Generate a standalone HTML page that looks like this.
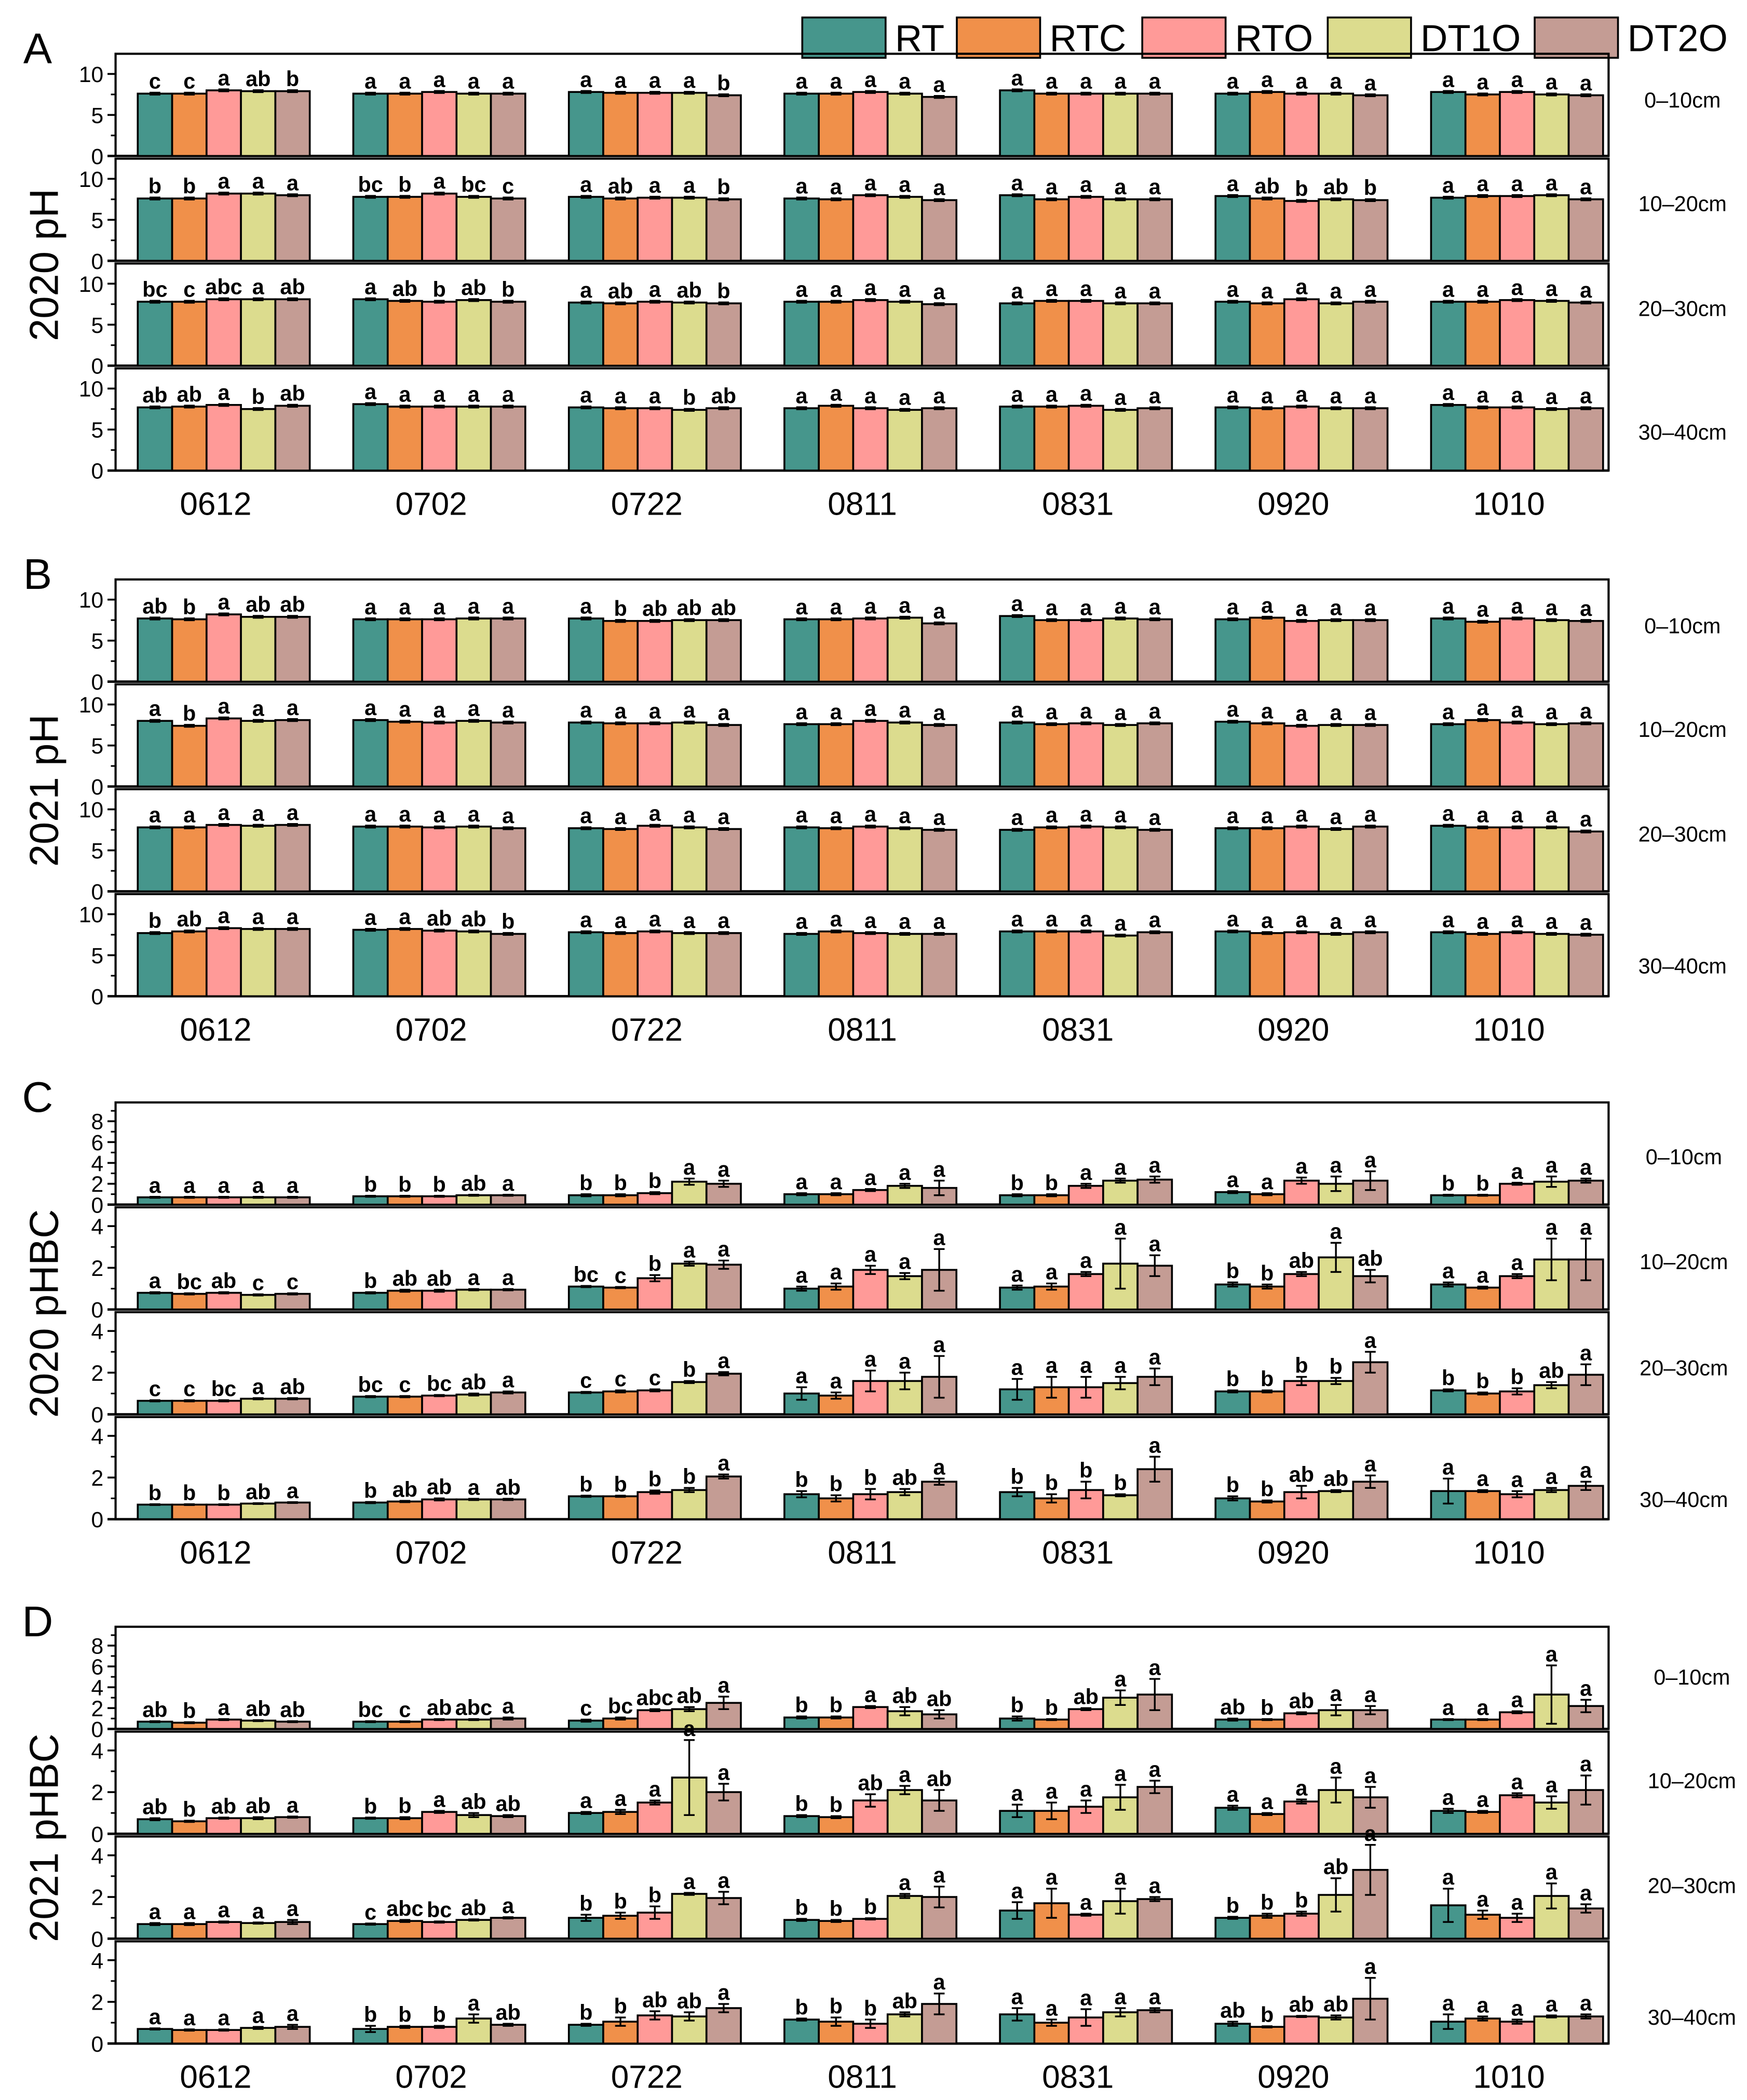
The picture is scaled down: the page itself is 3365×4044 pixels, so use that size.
<!DOCTYPE html>
<html><head><meta charset="utf-8">
<style>
html,body{margin:0;padding:0;background:#fff;}
svg{display:block;}
text{font-family:"Liberation Sans",Arial,sans-serif;}
</style></head>
<body>
<svg id="chart" xmlns="http://www.w3.org/2000/svg" width="3365" height="4044" viewBox="0 0 1300 1562" preserveAspectRatio="none">
<g id="legend"></g>
<g id="plots"></g>
</svg>
<script>
const categories = ["0612","0702","0722","0811","0831","0920","1010"];
const seriesNames = ["RT","RTC","RTO","DT1O","DT2O"];
const seriesColors = ["#46968C","#F0904A","#FF9A98","#DCDC8E","#C49C94"];
const depthLabels = ["0–10cm","10–20cm","20–30cm","30–40cm"];
const phTicks = [0,5,10];
const hbcTicksTop = [0,2,4,6,8];
const hbcTicks = [0,2,4];

// Panel A (2020 pH)
const A1_vals = [[7.6,7.6,8.0,7.9,7.9],[7.6,7.6,7.8,7.6,7.6],[7.8,7.7,7.7,7.7,7.4],[7.6,7.6,7.8,7.6,7.2],[8.0,7.6,7.6,7.6,7.6],[7.6,7.8,7.6,7.6,7.4],[7.8,7.5,7.8,7.5,7.4]];
const A1_let = ["c c a ab b","a a a a a","a a a a b","a a a a a","a a a a a","a a a a a","a a a a a"];
const A2_vals = [[7.6,7.6,8.2,8.2,8.0],[7.8,7.8,8.2,7.8,7.6],[7.8,7.6,7.7,7.7,7.5],[7.6,7.5,8.0,7.8,7.4],[8.0,7.5,7.8,7.5,7.5],[7.9,7.6,7.3,7.5,7.4],[7.7,7.9,7.9,8.0,7.5]];
const A2_let = ["b b a a a","bc b a bc c","a ab a a b","a a a a a","a a a a a","a ab b ab b","a a a a a"];
const A3_vals = [[7.8,7.8,8.1,8.1,8.1],[8.1,7.9,7.8,8.0,7.8],[7.7,7.6,7.8,7.7,7.6],[7.8,7.8,8.0,7.8,7.5],[7.6,7.9,7.9,7.6,7.6],[7.8,7.6,8.1,7.6,7.8],[7.8,7.8,8.0,7.9,7.7]];
const A3_let = ["bc c abc a ab","a ab b ab b","a ab a ab b","a a a a a","a a a a a","a a a a a","a a a a a"];
const A4_vals = [[7.7,7.8,8.0,7.5,7.9],[8.1,7.8,7.8,7.8,7.8],[7.7,7.6,7.6,7.4,7.6],[7.6,7.9,7.6,7.4,7.6],[7.8,7.8,7.9,7.4,7.6],[7.7,7.6,7.8,7.6,7.6],[8.0,7.7,7.7,7.5,7.6]];
const A4_let = ["ab ab a b ab","a a a a a","a a a b ab","a a a a a","a a a a a","a a a a a","a a a a a"];
// Panel B (2021 pH)
const B1_vals = [[7.7,7.6,8.2,7.9,7.9],[7.6,7.6,7.6,7.7,7.7],[7.7,7.4,7.4,7.5,7.5],[7.6,7.6,7.7,7.8,7.1],[8.0,7.5,7.5,7.7,7.6],[7.6,7.8,7.4,7.5,7.5],[7.7,7.3,7.7,7.5,7.4]];
const B1_let = ["ab b a ab ab","a a a a a","a b ab ab ab","a a a a a","a a a a a","a a a a a","a a a a a"];
const B2_vals = [[8.0,7.4,8.3,8.0,8.1],[8.1,7.9,7.8,8.0,7.8],[7.8,7.7,7.7,7.8,7.5],[7.6,7.6,8.0,7.8,7.5],[7.8,7.6,7.7,7.5,7.7],[7.9,7.7,7.4,7.5,7.5],[7.6,8.1,7.8,7.6,7.7]];
const B2_let = ["a b a a a","a a a a a","a a a a a","a a a a a","a a a a a","a a a a a","a a a a a"];
const B3_vals = [[7.8,7.8,8.1,8.0,8.1],[7.9,7.9,7.8,7.9,7.7],[7.7,7.6,8.0,7.8,7.6],[7.8,7.7,7.9,7.7,7.5],[7.5,7.8,7.9,7.8,7.5],[7.7,7.7,7.9,7.6,7.9],[8.0,7.8,7.8,7.8,7.3]];
const B3_let = ["a a a a a","a a a a a","a a a a a","a a a a a","a a a a a","a a a a a","a a a a a"];
const B4_vals = [[7.7,7.9,8.3,8.2,8.2],[8.1,8.2,8.0,7.9,7.6],[7.8,7.7,7.9,7.7,7.7],[7.6,7.9,7.7,7.6,7.6],[7.9,7.9,7.9,7.4,7.8],[7.9,7.7,7.8,7.6,7.8],[7.8,7.6,7.8,7.6,7.5]];
const B4_let = ["b ab a a a","a a ab ab b","a a a a a","a a a a a","a a a a a","a a a a a","a a a a a"];
// Panel C (2020 pHBC)
const C1_vals = [[0.7,0.7,0.7,0.7,0.7],[0.8,0.8,0.8,0.9,0.9],[0.9,0.9,1.1,2.2,2.0],[1.0,1.0,1.4,1.8,1.6],[0.9,0.9,1.8,2.3,2.4],[1.2,1.0,2.3,2.0,2.3],[0.9,0.9,2.0,2.2,2.3]];
const C1_err = [[.05,.05,.05,.05,.05],[.05,.05,.05,.05,.05],[.1,.1,.1,.3,.3],[.1,.1,.1,.2,.7],[.1,.1,.2,.2,.3],[.1,.1,.3,.7,.9],[.05,.05,.1,.5,.2]];
const C1_let = ["a a a a a","b b b ab a","b b b a a","a a a a a","b b a a a","a a a a a","b b a a a"];
const C2_vals = [[0.8,0.75,0.8,0.7,0.75],[0.8,0.9,0.9,0.95,0.95],[1.1,1.05,1.5,2.2,2.15],[1.0,1.1,1.9,1.6,1.9],[1.05,1.1,1.7,2.2,2.1],[1.2,1.1,1.7,2.5,1.6],[1.2,1.05,1.6,2.4,2.4]];
const C2_err = [[.03,.03,.03,.03,.03],[.03,.05,.05,.03,.03],[.03,.03,.15,.1,.2],[.1,.15,.2,.15,1.0],[.1,.15,.1,1.2,.5],[.1,.1,.1,.7,.3],[.1,.05,.1,1.0,1.0]];
const C2_let = ["a bc ab c c","b ab ab a a","bc c b a a","a a a a a","a a a a a","b b ab a ab","a a a a a"];
const C3_vals = [[0.65,0.65,0.65,0.75,0.75],[0.85,0.85,0.9,0.95,1.05],[1.05,1.1,1.15,1.55,1.95],[1.0,0.9,1.6,1.6,1.8],[1.2,1.3,1.3,1.5,1.8],[1.1,1.1,1.6,1.6,2.5],[1.15,1.0,1.1,1.4,1.9]];
const C3_err = [[.03,.03,.03,.03,.03],[.03,.03,.03,.05,.05],[.03,.05,.05,.05,.08],[.3,.15,.5,.4,1.0],[.5,.5,.5,.3,.4],[.05,.05,.2,.15,.5],[.05,.05,.15,.15,.5]];
const C3_let = ["c c bc a ab","bc c bc ab a","c c c b a","a a a a a","a a a a a","b b b b a","b b b ab a"];
const C4_vals = [[0.7,0.7,0.7,0.75,0.8],[0.8,0.85,0.95,0.95,0.95],[1.1,1.1,1.3,1.4,2.05],[1.2,1.0,1.2,1.3,1.8],[1.3,1.0,1.4,1.15,2.4],[1.0,0.85,1.3,1.35,1.8],[1.35,1.35,1.2,1.4,1.6]];
const C4_err = [[.02,.02,.02,.02,.02],[.03,.03,.05,.03,.03],[.03,.03,.08,.1,.1],[.15,.15,.25,.15,.15],[.2,.2,.4,.05,.6],[.1,.05,.3,.05,.3],[.6,.05,.15,.1,.2]];
const C4_let = ["b b b ab a","b ab ab a ab","b b b b a","b b b ab a","b b b b a","b b ab ab a","a a a a a"];
// Panel D (2021 pHBC)
const D1_vals = [[0.7,0.6,0.9,0.8,0.7],[0.7,0.7,0.9,0.9,1.0],[0.8,1.0,1.8,1.9,2.5],[1.1,1.1,2.1,1.7,1.4],[1.0,0.9,1.9,3.0,3.3],[0.9,0.9,1.5,1.8,1.8],[0.9,0.9,1.6,3.3,2.2]];
const D1_err = [[.05,.05,.05,.05,.05],[.05,.05,.05,.05,.1],[.1,.1,.1,.2,.6],[.1,.1,.1,.4,.4],[.2,.05,.1,.7,1.5],[.1,.05,.1,.5,.4],[.05,.05,.1,2.8,.6]];
const D1_let = ["ab b a ab ab","bc c ab abc a","c bc abc ab a","b b a ab ab","b b ab a a","ab b ab a a","a a a a a"];
const D2_vals = [[0.7,0.6,0.75,0.75,0.8],[0.75,0.75,1.05,0.9,0.85],[1.0,1.05,1.5,2.7,2.0],[0.85,0.8,1.6,2.1,1.6],[1.1,1.1,1.3,1.75,2.25],[1.25,0.95,1.55,2.1,1.75],[1.1,1.05,1.85,1.5,2.1]];
const D2_err = [[.05,.03,.03,.05,.03],[.03,.05,.05,.1,.05],[.05,.1,.1,1.8,.4],[.05,.05,.3,.2,.5],[.3,.4,.3,.6,.3],[.1,.05,.1,.6,.5],[.1,.05,.1,.3,.7]];
const D2_let = ["ab b ab ab a","b b a ab ab","a a a a a","b b ab a ab","a a a a a","a a a a a","a a a a a"];
const D3_vals = [[0.7,0.7,0.8,0.75,0.8],[0.7,0.85,0.8,0.9,1.0],[1.0,1.1,1.25,2.15,1.95],[0.9,0.85,0.95,2.05,2.0],[1.35,1.7,1.15,1.8,1.9],[1.0,1.1,1.2,2.1,3.3],[1.6,1.15,1.0,2.05,1.45]];
const D3_err = [[.05,.05,.03,.03,.1],[.03,.05,.03,.03,.03],[.15,.15,.3,.05,.3],[.05,.05,.03,.1,.5],[.4,.7,.05,.6,.1],[.05,.1,.1,.8,1.2],[.8,.2,.2,.6,.2]];
const D3_let = ["a a a a a","c abc bc ab a","b b b a a","b b b a a","a a a a a","b b b ab a","a a a a a"];
const D4_vals = [[0.7,0.65,0.65,0.75,0.8],[0.7,0.8,0.8,1.2,0.9],[0.9,1.05,1.35,1.3,1.7],[1.15,1.05,0.95,1.4,1.9],[1.4,1.0,1.25,1.5,1.6],[0.95,0.8,1.3,1.25,2.15],[1.05,1.2,1.05,1.3,1.3]];
const D4_err = [[.03,.03,.03,.05,.1],[.15,.05,.05,.2,.05],[.05,.2,.2,.2,.2],[.05,.2,.2,.1,.5],[.3,.15,.4,.2,.1],[.1,.03,.03,.1,1.0],[.35,.1,.1,.05,.1]];
const D4_let = ["a a a a a","b b b a ab","b b ab ab a","b b b ab a","a a a a a","ab b ab ab a","a a a a a"];

const NS = "http://www.w3.org/2000/svg";
function mk(tag, attrs, parent){
  const e = document.createElementNS(NS, tag);
  for (const k in attrs) e.setAttribute(k, attrs[k]);
  parent.appendChild(e);
  return e;
}
const X0 = 86, X1 = 1197, BW = 25.6, G0 = 166.5, GP = 160.4;
function xBar(g, i){ return G0 + GP*g - 2.5*BW + i*BW; }

const panels = [
  {letter:"A", title:"2020 pH", zeros:[116,194,272,350], type:"ph",
   rows:[[A1_vals,null,A1_let],[A2_vals,null,A2_let],[A3_vals,null,A3_let],[A4_vals,null,A4_let]],
   depthOff:[-42,-43,-43,-29], depthX:1252},
  {letter:"B", title:"2021 pH", zeros:[507,585,663,741], type:"ph",
   rows:[[B1_vals,null,B1_let],[B2_vals,null,B2_let],[B3_vals,null,B3_let],[B4_vals,null,B4_let]],
   depthOff:[-42,-43,-43,-23], depthX:1252},
  {letter:"C", title:"2020 pHBC", zeros:[896,974,1052,1130], type:"hbc",
   rows:[[C1_vals,C1_err,C1_let],[C2_vals,C2_err,C2_let],[C3_vals,C3_err,C3_let],[C4_vals,C4_err,C4_let]],
   depthOff:[-36,-36,-35,-15], depthX:1253},
  {letter:"D", title:"2021 pHBC", zeros:[1286,1364,1442,1520], type:"hbc",
   rows:[[D1_vals,D1_err,D1_let],[D2_vals,D2_err,D2_let],[D3_vals,D3_err,D3_let],[D4_vals,D4_err,D4_let]],
   depthOff:[-39,-40,-40,-20], depthX:1259}
];

const plots = document.getElementById("plots");
panels.forEach(function(p){
  const pg = mk("g", {}, plots);
  
  
  const pl = mk("text", {x:28, y:p.zeros[0]-69, "font-size":32, "text-anchor":"middle"}, pg);
  pl.textContent = p.letter;
  
  
  const midY = (p.zeros[0]-76 + p.zeros[3]) / 2 + 2;
  const yt = mk("text", {x:0, y:0, "font-size":30, "text-anchor":"middle", transform:"translate(43,"+midY+") rotate(-90)"}, pg);
  yt.textContent = p.title;
  
  

  p.rows.forEach(function(r, ri){
    const vals = r[0], errs = r[1], lets = r[2];
    const z = p.zeros[ri];
    let scale, ticks, minor;
    if (p.type === "ph") { scale = 6.1; ticks = phTicks; minor = [2.5,7.5]; }
    else if (ri === 0) { scale = 7.75; ticks = hbcTicksTop; minor = [1,3,5,7,9]; }
    else { scale = 15.5; ticks = hbcTicks; minor = [1,3]; }
    const rg = mk("g", {}, pg);
    
    
    const top = z - 76;
    const fr = mk("rect", {x:X0, y:top, width:X1-X0, height:z-top, fill:"none", stroke:"#000", "stroke-width":1.6}, rg);
    
    
    const ax = mk("line", {x1:X0-6, y1:z, x2:X1, y2:z, stroke:"#000", "stroke-width":1.8}, rg);
    
    
    ticks.forEach(function(t){
      const y = z - t*scale;
      const tl = mk("line", {x1:X0-6, y1:y, x2:X0, y2:y, stroke:"#000", "stroke-width":1.4}, rg);
      
      
      const tt = mk("text", {x:X0-9, y:y+6, "font-size":16.5, "text-anchor":"end"}, rg);
      tt.textContent = t;
      
      
    });
    minor.forEach(function(t){
      const y = z - t*scale;
      if (y < top) return;
      const ml = mk("line", {x1:X0-3.5, y1:y, x2:X0, y2:y, stroke:"#000", "stroke-width":1.2}, rg);
      
      
    });
    vals.forEach(function(gv, g){
      const gl = lets[g].split(" ");
      gv.forEach(function(v, i){
        const e = errs ? errs[g][i] : 0.12;
        const x = xBar(g, i);
        const h = v*scale;
        const b = mk("rect", {x:x, y:z-h, width:BW, height:h, fill:seriesColors[i], stroke:"#000", "stroke-width":1.4}, rg);
        
        
        const cx = x + BW/2, yT = z-(v+e)*scale, yB = z-(v-e)*scale;
        const eb = mk("path", {d:"M"+cx+" "+yT+"V"+yB+"M"+(cx-4)+" "+yT+"H"+(cx+4)+"M"+(cx-4)+" "+yB+"H"+(cx+4), stroke:"#000", "stroke-width":1.3, fill:"none"}, rg);
        
        
        const lt = mk("text", {x:cx, y:yT-3, "font-size":16, "font-weight":"bold", "text-anchor":"middle"}, rg);
        lt.textContent = gl[i];
        
        
      });
    });
    const dl = mk("text", {x:p.depthX, y:z+p.depthOff[ri]+6, "font-size":16, "text-anchor":"middle"}, rg);
    dl.textContent = depthLabels[ri];
    
    
  });
  categories.forEach(function(c, g){
    const t = mk("text", {x:G0+GP*g - 6, y:p.zeros[3]+33, "font-size":24, "text-anchor":"middle"}, pg);
    t.textContent = c;
    
    
  });
});

const legend = document.getElementById("legend");
const legBox = [597,712,850,988,1142];
seriesNames.forEach(function(n, i){
  const r = mk("rect", {x:legBox[i], y:13, width:62, height:30, fill:seriesColors[i], stroke:"#000", "stroke-width":1.4}, legend);
  
  
  const t = mk("text", {x:legBox[i]+69, y:38, "font-size":28}, legend);
  t.textContent = n;
  
  
});
</script>
</body></html>
